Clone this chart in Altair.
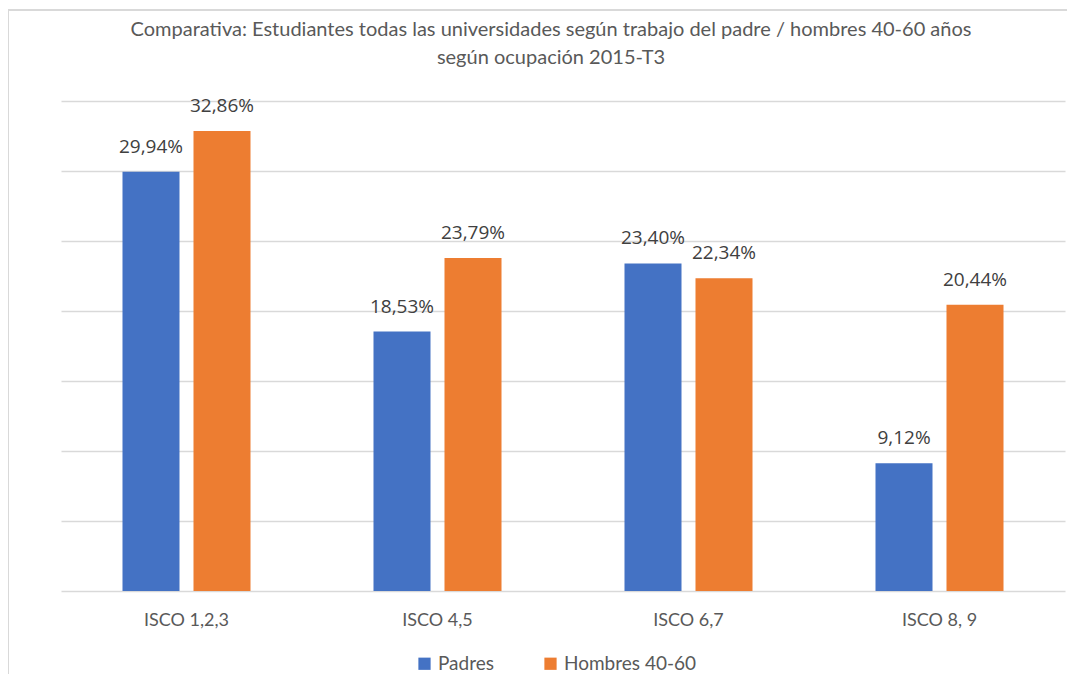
import altair as alt
import pandas as pd

title_lines = ["Comparativa: Estudiantes todas las universidades según trabajo del padre / hombres 40-60 años",
               "según ocupación 2015-T3"]
categories = ["ISCO 1,2,3", "ISCO 4,5", "ISCO 6,7", "ISCO 8, 9"]
series = ["Padres", "Hombres 40-60"]
padres = [29.94, 18.53, 23.40, 9.12]
hombres = [32.86, 23.79, 22.34, 20.44]
colors = ["#4472C4", "#ED7D31"]

rows = []
for i, c in enumerate(categories):
    for s, vals in zip(series, [padres, hombres]):
        v = vals[i]
        rows.append({"cat": c, "serie": s, "val": v,
                     "label": f"{v:.2f}".replace(".", ",") + "%"})
df = pd.DataFrame(rows)
tdf = pd.DataFrame({"t": title_lines, "row": [0, 1]})

TXT = "#595959"
FONT = "Lato"

x = alt.X("cat:N", sort=categories, title=None,
          scale=alt.Scale(paddingInner=0.49, paddingOuter=0.245),
          axis=alt.Axis(labelAngle=0, labelFontSize=18, labelColor=TXT, labelFont=FONT,
                        ticks=False, domain=False, labelPadding=20))
xo = alt.XOffset("serie:N", sort=series, scale=alt.Scale(paddingInner=0.197))
y = alt.Y("val:Q", title=None,
          scale=alt.Scale(domain=[0, 35], nice=False),
          axis=alt.Axis(values=[0, 5, 10, 15, 20, 25, 30, 35], labels=False, ticks=False,
                        domain=False, grid=True, gridColor="#D9D9D9", gridWidth=1.3))

bars = alt.Chart(df).mark_bar().encode(
    x=x, xOffset=xo, y=y,
    color=alt.Color("serie:N", sort=series, scale=alt.Scale(domain=series, range=colors),
                    legend=alt.Legend(title=None, orient="none", direction="horizontal",
                                      legendX=354, legendY=553,
                                      symbolType="square", symbolSize=150, symbolStrokeWidth=0,
                                      labelFontSize=19, labelColor=TXT, labelFont=FONT,
                                      columnPadding=47)),
)

labels = alt.Chart(df).mark_text(dy=-25, fontSize=19, color="#404040", font="Open Sans").encode(
    x=alt.X("cat:N", sort=categories), xOffset=alt.XOffset("serie:N", sort=series), y="val:Q",
    text="label:N",
)

title0 = alt.Chart(tdf).transform_filter("datum.row == 0").mark_text(
    fontSize=20, font=FONT, color=TXT, clip=False).encode(
    x=alt.value(490), y=alt.value(-71), text="t:N")
title1 = alt.Chart(tdf).transform_filter("datum.row == 1").mark_text(
    fontSize=20, font=FONT, color=TXT, clip=False).encode(
    x=alt.value(490), y=alt.value(-43), text="t:N")

frame_left = alt.Chart(df).mark_rule(color="#D9D9D9", strokeWidth=2, clip=False).encode(
    x=alt.value(-53), y=alt.value(-91), y2=alt.value(580))
frame_top = alt.Chart(df).mark_rule(color="#D9D9D9", strokeWidth=2, clip=False).encode(
    x=alt.value(-53), x2=alt.value(1010), y=alt.value(-91))

chart = alt.layer(frame_left, frame_top, title0, title1, bars, labels).properties(
    width=1004, height=490,
    autosize=alt.AutoSizeParams(type="none"),
    padding={"left": 53, "top": 93, "right": 2, "bottom": 83},
).configure_view(stroke=None)

chart.save("out.html", embed_options={"renderer": "svg", "actions": False})
